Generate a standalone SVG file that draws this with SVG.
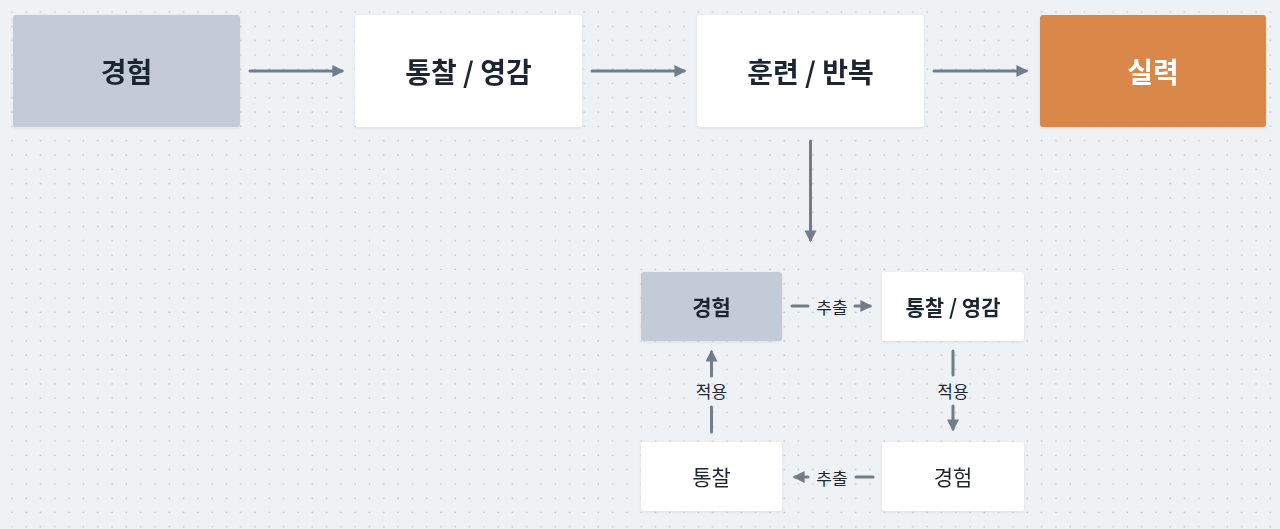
<svg xmlns="http://www.w3.org/2000/svg" width="1280" height="529" viewBox="0 0 1280 529">
<style>
.n{rx:3px}
.g{fill:#c3ccd6}
.w{fill:#ffffff}
.o{fill:#d9884a}
.t{font-family:"Noto Sans CJK KR","Noto Sans",sans-serif;text-anchor:middle;dominant-baseline:central;fill:#1f2733}
.b{font-weight:700}
.L{font-size:28px}
.S{font-size:21px}
.e{font-size:17px;font-family:"Noto Sans CJK KR",sans-serif;text-anchor:middle;dominant-baseline:central;fill:#1f2733}
.c{stroke:#737d8a;stroke-width:3;fill:none;stroke-linecap:round}
</style>
<defs>
<pattern id="dots" width="14.3" height="14.3" patternUnits="userSpaceOnUse" x="5" y="5">
<circle cx="7" cy="7" r="0.9" fill="#c2c8d0"/>
</pattern>
<marker id="ah" viewBox="0 0 10 10" refX="8" refY="5" markerWidth="4" markerHeight="4" orient="auto" markerUnits="strokeWidth">
<path d="M0,0 L10,5 L0,10 z" fill="#737d8a"/>
</marker>
<filter id="sh" x="-10%" y="-10%" width="120%" height="130%"><feDropShadow dx="0" dy="1" stdDeviation="1.5" flood-color="#000" flood-opacity="0.08"/></filter>
</defs>
<rect width="1280" height="529" fill="#eff2f5"/>
<rect width="1280" height="529" fill="url(#dots)"/>
<g id="n1" filter="url(#sh)"><rect class="n g" x="13" y="15" width="227" height="112"/><text class="t b L" x="126.5" y="71">경험</text></g>
<g id="n2" filter="url(#sh)"><rect class="n w" x="355" y="15" width="227" height="112"/><text class="t b L" x="468.5" y="71">통찰 / 영감</text></g>
<g id="n3" filter="url(#sh)"><rect class="n w" x="697" y="15" width="227" height="112"/><text class="t b L" x="810.5" y="71">훈련 / 반복</text></g>
<g id="n4" filter="url(#sh)"><rect class="n o" x="1040" y="15" width="226" height="112"/><text class="t b L" x="1153" y="71" style="fill:#fff">실력</text></g>
<g id="n5" filter="url(#sh)"><rect class="n g" x="641" y="272" width="141" height="69"/><text class="t b S" x="711.5" y="306">경험</text></g>
<g id="n6" filter="url(#sh)"><rect class="n w" x="882" y="272" width="142" height="69"/><text class="t b S" x="953" y="306">통찰 / 영감</text></g>
<g id="n7" filter="url(#sh)"><rect class="n w" x="641" y="442" width="141" height="69"/><text class="t S" x="711.5" y="476">통찰</text></g>
<g id="n8" filter="url(#sh)"><rect class="n w" x="882" y="442" width="142" height="69"/><text class="t S" x="953" y="476">경험</text></g>
<g id="connectors">
<path class="c" d="M250,71 H342" marker-end="url(#ah)"/>
<path class="c" d="M592,71 H684" marker-end="url(#ah)"/>
<path class="c" d="M934,71 H1026" marker-end="url(#ah)"/>
<path class="c" d="M810.5,141 V240" marker-end="url(#ah)"/>
<path class="c" d="M792,306 H808"/><path class="c" d="M855,306 H870" marker-end="url(#ah)"/>
<text class="e" x="832" y="306">추출</text>
<path class="c" d="M953,351 V375"/><path class="c" d="M953,406 V429" marker-end="url(#ah)"/>
<text class="e" x="953" y="390">적용</text>
<path class="c" d="M873,477 H856"/><path class="c" d="M808,477 H795" marker-end="url(#ah)"/>
<text class="e" x="832" y="477">추출</text>
<path class="c" d="M711.5,432 V407"/><path class="c" d="M711.5,376 V352" marker-end="url(#ah)"/>
<text class="e" x="711.5" y="390">적용</text>
</g>
</svg>
